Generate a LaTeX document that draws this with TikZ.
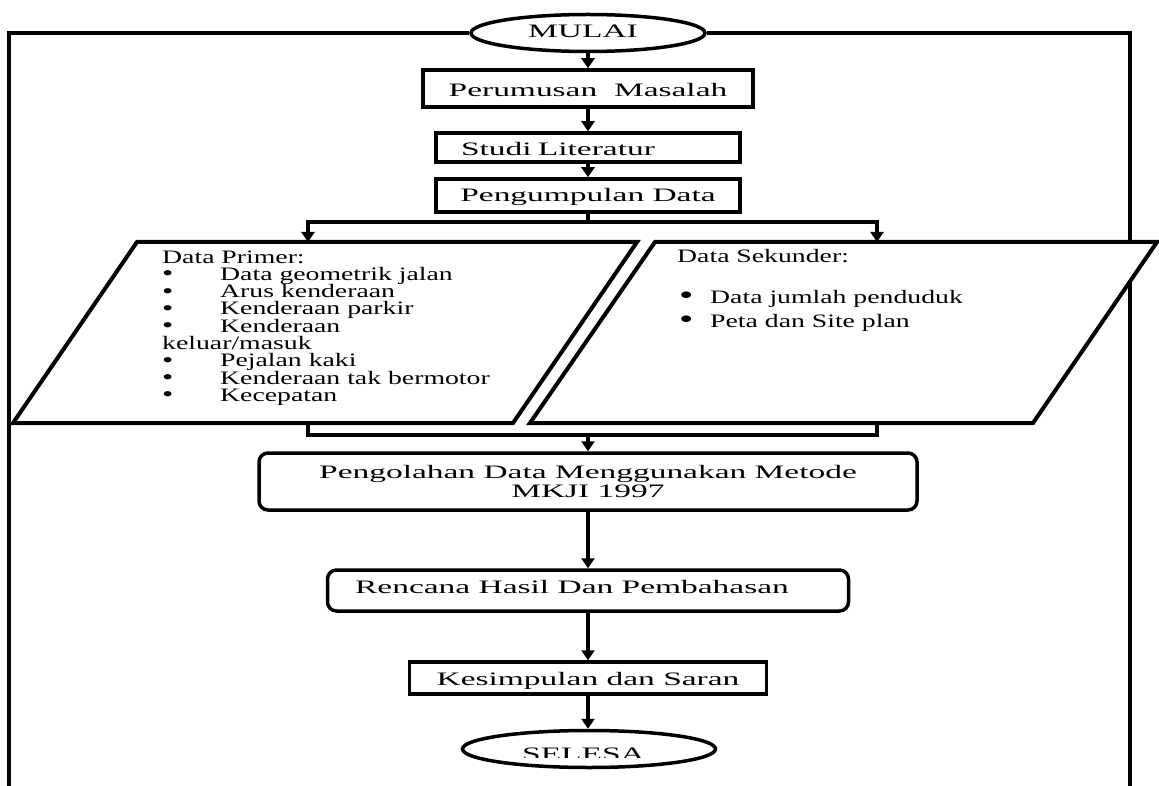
\documentclass[tikz,border=0pt]{standalone}
\usepackage{fontspec}
\setmainfont{Liberation Serif}
\newfontfamily\bxfont{Liberation Serif}[FakeStretch=1.76]
\newfontfamily\pafont{Liberation Serif}[FakeStretch=1.46]
\usetikzlibrary{shapes.geometric,arrows.meta}
\newcommand\secbul{\smash{\fontsize{28}{20}\selectfont\raisebox{-1.5pt}{•}}}
\newcommand\pribul{\smash{\fontsize{22}{17}\selectfont\raisebox{-0.5pt}{•}}}
\begin{document}
\begin{tikzpicture}[x=1pt,y=-1pt,
  every node/.style={inner sep=0pt},
  stepbox/.style={draw, line width=3.5pt, fill=white, font=\bxfont\fontsize{19}{19}\selectfont},
  roundbox/.style={stepbox, rounded corners=9pt},
  term/.style={draw, ellipse, line width=3.5pt, fill=white, font=\bxfont\fontsize{19}{19}\selectfont},
  conn/.style={line width=4pt},
  arr/.style={conn, -{Triangle[width=13pt,length=10pt]}},
  frame/.style={line width=3.5pt},
  para/.style={draw, line width=4pt, fill=white, line join=miter},
  ptext/.style={font=\pafont\fontsize{19}{17.3}\selectfont, align=left, anchor=base west},
  bl/.style={text height=#1, text depth=0pt}
]
\useasboundingbox (0,0) rectangle (1159,786);

% start terminal and outer frame
\node[term, minimum width=234pt, minimum height=37pt, bl=10pt] (mulai) at (588,33) {\hspace*{-5pt}MULAI\hspace*{5pt}};
\draw[frame] (mulai.west) -- (9,33) -- (9,786);
\draw[frame] (mulai.east) -- (1130,33) -- (1130,786);

% data parallelograms
\draw[para] (137,242) -- (637,242) -- (513,423) -- (13,423) -- cycle;
\draw[para] (655,242) -- (1157,242) -- (1033,423) -- (530,423) -- cycle;
\coordinate (pin)  at (308,242);
\coordinate (sin)  at (877,242);
\coordinate (pout) at (308,423);
\coordinate (sout) at (877,423);
\coordinate (split) at (588,222);
\coordinate (merge) at (588,435);

% multi-line text: the node's base is the baseline of its last line
\node[ptext] (primer) at (162,401.4) {Data Primer:\\
\makebox[58pt][l]{\pribul}Data geometrik jalan\\
\makebox[58pt][l]{\pribul}Arus kenderaan\\
\makebox[58pt][l]{\pribul}Kenderaan parkir\\
\makebox[58pt][l]{\pribul}Kenderaan\\
keluar/masuk\\
\makebox[58pt][l]{\pribul}Pejalan kaki\\
\makebox[58pt][l]{\pribul}Kenderaan tak bermotor\\
\makebox[58pt][l]{\pribul}Kecepatan};

\node[ptext] (sekunder) at (677,263) {Data Sekunder:};
\node[ptext, font=\pafont\fontsize{19}{24}\selectfont] (sekitems) at (679,327)
  {\makebox[31pt][l]{\secbul}Data jumlah penduduk\\
   \makebox[31pt][l]{\secbul}Peta dan Site plan};

% process boxes
\node[stepbox, minimum width=330pt, minimum height=37pt, bl=16pt] (perumusan) at (588,88.5) {Perumusan~~Masalah};
\node[stepbox, minimum width=304pt, minimum height=29pt, bl=17pt, text width=254pt, align=left] (studi) at (588,147.5) {Studi Literatur};
\node[stepbox, minimum width=304pt, minimum height=33pt, bl=13pt] (pengumpulan) at (588,195.5) {Pengumpulan Data};
\node[roundbox, minimum width=658pt, minimum height=57pt, align=center] (pengolahan) at (588,481.5) {Pengolahan Data Menggunakan Metode\\ MKJI 1997};
\node[roundbox, minimum width=521pt, minimum height=41pt, bl=6pt] (rencana) at (588,590.5) {\hspace*{-16pt}Rencana Hasil Dan Pembahasan\hspace*{16pt}};
\node[stepbox, minimum width=357pt, minimum height=32pt, bl=14pt] (kesimpulan) at (588,678) {Kesimpulan dan Saran};

% end terminal (label cut off as in the source)
\node[term, minimum width=253pt, minimum height=37pt] (selesa) at (589,749) {};
\begin{scope}
  \clip (450,735) rectangle (730,757.5);
  \node[font=\bxfont\fontsize{19}{19}\selectfont, anchor=base] (selesatext) at (583.5,760) {SELESA};
\end{scope}

% connectors
\draw[arr] (mulai) -- (perumusan);
\draw[arr] (perumusan) -- (studi);
\draw[arr] (studi) -- (pengumpulan);
\draw[conn] (pengumpulan) -- (split);
\draw[arr] (split) -| (pin);
\draw[arr] (split) -| (sin);
\draw[conn] (pout) |- (merge);
\draw[conn] (sout) |- (merge);
\draw[arr] (merge) -- (pengolahan);
\draw[arr] (pengolahan) -- (rencana);
\draw[arr] (rencana) -- (kesimpulan);
\draw[arr] (kesimpulan.south) -- (kesimpulan.south |- selesa.north);
\end{tikzpicture}
\end{document}
